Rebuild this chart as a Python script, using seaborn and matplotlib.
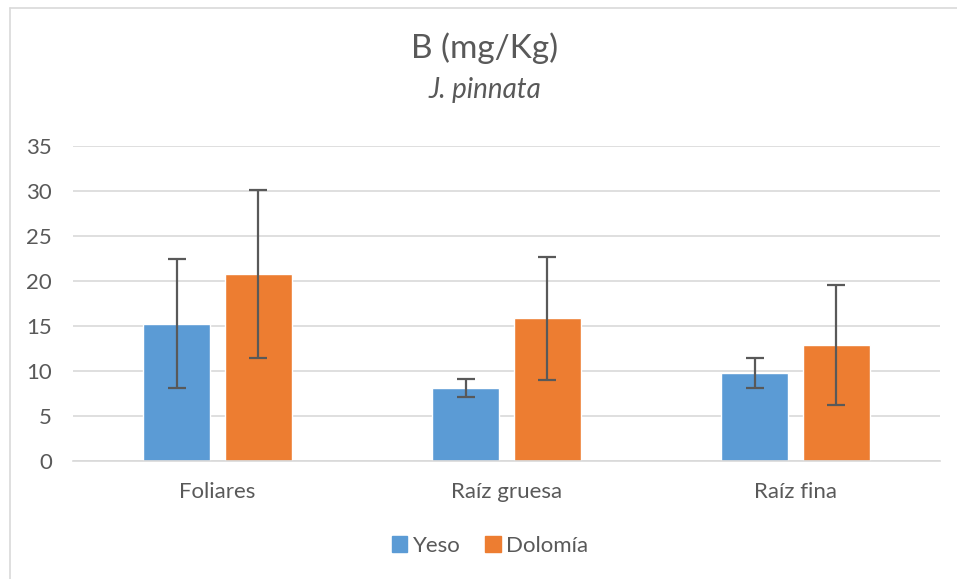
import matplotlib
matplotlib.use("Agg")
import matplotlib.pyplot as plt
from matplotlib.lines import Line2D
import seaborn as sns
import pandas as pd

# values
categories = ["Foliares", "Raíz gruesa", "Raíz fina"]
series = ["Yeso", "Dolomía"]
yeso_mean = [15.25, 8.15, 9.75]
yeso_err = [7.15, 1.0, 1.65]
dolomia_mean = [20.8, 15.85, 12.9]
dolomia_err = [9.35, 6.8, 6.7]
y_ticks = [0, 5, 10, 15, 20, 25, 30, 35]

colors = {"Yeso": "#5B9BD5", "Dolomía": "#ED7D31"}
text_grey = "#595959"
grid_grey = "#D9D9D9"

df = pd.DataFrame({
    "cat": categories * 2,
    "serie": ["Yeso"] * 3 + ["Dolomía"] * 3,
    "val": yeso_mean + dolomia_mean,
    "err": yeso_err + dolomia_err,
})

sns.set_theme(style="white")
plt.rcParams["font.family"] = ["Lato", "DejaVu Sans"]

fig = plt.figure(figsize=(9.57, 5.79), dpi=100)
ax = fig.add_axes([73 / 957, 1 - 461 / 579, 867 / 957, 315 / 579])

sns.barplot(data=df, x="cat", y="val", hue="serie", hue_order=series,
            palette=colors, width=0.567, gap=0.19, errorbar=None,
            saturation=1, ax=ax, zorder=2)

# error bars at the centre of each drawn bar
for cont, s in zip(ax.containers, series):
    sub = df[df["serie"] == s]
    xs = [p.get_x() + p.get_width() / 2 for p in cont.patches]
    ax.errorbar(xs, sub["val"], yerr=sub["err"], fmt="none",
                ecolor=text_grey, elinewidth=1.6, capsize=6.5,
                capthick=1.6, zorder=3)

ax.set_ylim(0, 35)
ax.set_yticks(y_ticks)
ax.set_xlim(-0.5, 2.5)
ax.yaxis.grid(True, color=grid_grey, lw=1.2, zorder=0)
ax.set_axisbelow(True)
for side in ["top", "right", "left"]:
    ax.spines[side].set_visible(False)
ax.spines["bottom"].set_color(grid_grey)
ax.spines["bottom"].set_linewidth(1.2)
ax.tick_params(axis="both", length=0, labelsize=16, labelcolor=text_grey)
ax.tick_params(axis="y", pad=15)
ax.tick_params(axis="x", pad=15)
ax.set_xlabel("")
ax.set_ylabel("")
ax.legend_.remove()

fig.text(485 / 957, 1 - 48 / 579, "B (mg/Kg)", ha="center", va="center",
         fontsize=24, color=text_grey)
fig.text(485 / 957, 1 - 90 / 579, "J. pinnata", ha="center", va="center",
         fontsize=20, color=text_grey, style="italic")

handles = [plt.Rectangle((0, 0), 1, 1, color=colors[s]) for s in series]
fig.legend(handles, series, loc="center", bbox_to_anchor=(490 / 957, 1 - 546 / 579),
           ncol=2, frameon=False, fontsize=16, labelcolor=text_grey,
           handlelength=0.7, handleheight=0.7, handletextpad=0.25,
           columnspacing=1.1)

# chart border (top and left edges visible)
fig.add_artist(Line2D([9.5 / 957, 9.5 / 957], [0, 1 - 7.5 / 579],
                      color=grid_grey, lw=1.2, transform=fig.transFigure))
fig.add_artist(Line2D([9.5 / 957, 1], [1 - 7.5 / 579, 1 - 7.5 / 579],
                      color=grid_grey, lw=1.2, transform=fig.transFigure))

fig.savefig("out.png", dpi=100)
